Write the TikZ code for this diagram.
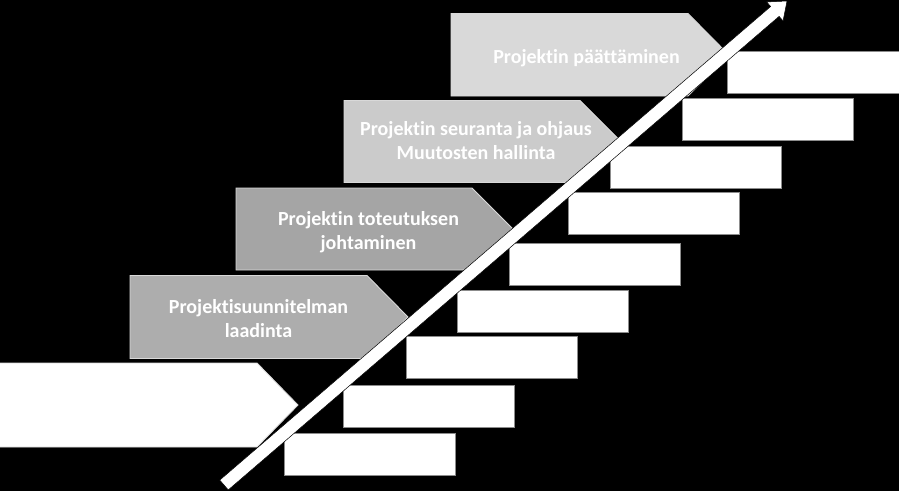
\documentclass[tikz,border=0pt]{standalone}
\usepackage{fontspec}
\setmainfont{Carlito}[Ligatures={NoCommon,NoContextual}]
\definecolor{gSuun}{HTML}{ADADAD}
\definecolor{gTot}{HTML}{A5A5A5}
\definecolor{gSeu}{HTML}{CBCBCB}
\definecolor{gPaa}{HTML}{D9D9D9}
\begin{document}
\begin{tikzpicture}[x=1pt,y=-1pt,
  pent/.style={draw=white!85!black, line width=0.9pt},
  recbox/.style={fill=white, draw=black!45, line width=0.9pt, minimum width=171pt, minimum height=42pt, inner sep=0pt, outer sep=0pt, anchor=north west},
  lbl/.style={text=white, font=\bfseries\fontsize{20}{24}\selectfont, align=center, inner sep=0pt},
  bigarrow/.style={fill=white, draw=black, line width=0.5pt, line join=miter}]
\fill[black] (0,0) rectangle (899,491);
\useasboundingbox (0,0) rectangle (899,491);

% pentagons
\filldraw[pent, fill=white] (-2,363) -- (257,363) -- (298,405) -- (257,447) -- (-2,447) -- cycle;
\filldraw[pent, fill=gSuun] (130,275.5) -- (367,275.5) -- (408,317) -- (367,358.5) -- (130,358.5) -- cycle;
\filldraw[pent, fill=gTot] (236,188) -- (472,188) -- (513,229) -- (472,270) -- (236,270) -- cycle;
\filldraw[pent, fill=gSeu] (344,100.5) -- (580,100.5) -- (621,141.5) -- (580,182.5) -- (344,182.5) -- cycle;
\filldraw[pent, fill=gPaa] (451,13.5) -- (688,13.5) -- (729,55) -- (688,96) -- (451,96) -- cycle;

% rectangles
\node[recbox, minimum width=175pt] (r1) at (727,51) {};
\node[recbox] (r2) at (682,98.5) {};
\node[recbox] (r3) at (610.5,146.5) {};
\node[recbox] (r4) at (568,192.5) {};
\node[recbox] (r5) at (509.5,243) {};
\node[recbox] (r6) at (457,290) {};
\node[recbox] (r7) at (406,336) {};
\node[recbox] (r8) at (343.5,385) {};
\node[recbox] (r9) at (284.5,433) {};

% labels
\node[lbl] (tPaa) at (586.5,58.5) {Projektin päättäminen};
\node[lbl] (tSeu) at (476,141) {Projektin seuranta ja ohjaus\\Muutosten hallinta};
\node[lbl] (tTot) at (368.5,232.5) {Projektin toteutuksen\\johtaminen};
\node[lbl] (tSuun) at (258.5,318.5) {Projektisuunnitelman\\laadinta};

% big arrow (shaft 13, head 25 wide, 16 long)
\coordinate (aS1) at (228.24,489.93);
\coordinate (aS2) at (219.76,480.07);
\coordinate (aH1) at (779.11,16.36);
\coordinate (aH2) at (770.63,6.50);
\coordinate (aB1) at (783.02,20.91);
\coordinate (aB2) at (766.72,1.95);
\coordinate (aT) at (787,1);
\filldraw[bigarrow] (aS1) -- (aH1) -- (aB1) -- (aT) -- (aB2) -- (aH2) -- (aS2) -- cycle;
\end{tikzpicture}
\end{document}
